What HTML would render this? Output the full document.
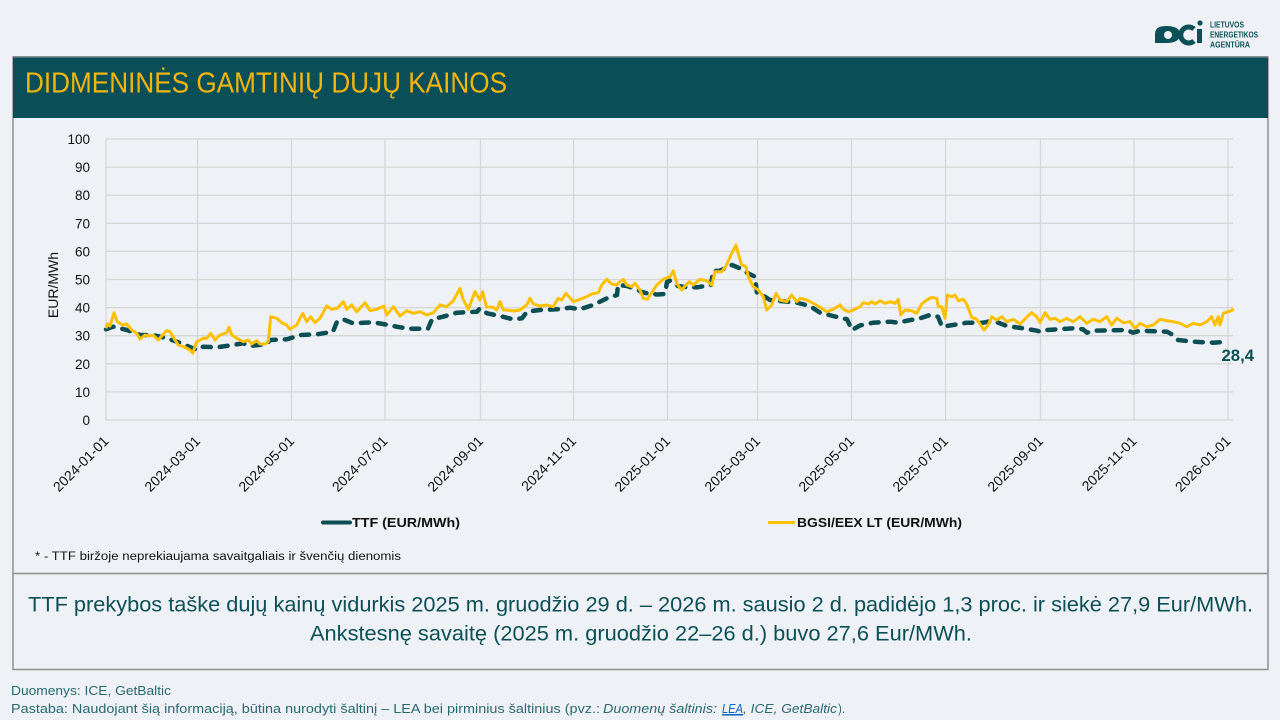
<!DOCTYPE html>
<html><head><meta charset="utf-8">
<style>
html,body{margin:0;padding:0;background:#eef2f6;}
svg{display:block;}
text{font-family:"Liberation Sans","DejaVu Sans",sans-serif;}
</style></head>
<body>
<svg width="1280" height="720" viewBox="0 0 1280 720" xmlns="http://www.w3.org/2000/svg">
<rect x="0" y="0" width="1280" height="720" fill="#eef2f6"/>

<!-- logo -->
<g fill="#0b5057">
  <path d="M1155,43 L1155,34 Q1155,26 1166,26 Q1180,26 1180,34.5 Q1180,43 1166,43 Z"/>
  <circle cx="1168" cy="35" r="4" fill="#eef2f6"/>
  <path d="M1194,29 A8,8 0 1 0 1194,41" fill="none" stroke="#0b5057" stroke-width="5"/>
  <rect x="1197" y="29" width="5" height="14"/>
  <circle cx="1200" cy="23" r="2.6"/>
</g>
<g fill="#0b5057" font-weight="bold" font-size="8">
  <text x="1210" y="27.5" textLength="34" lengthAdjust="spacingAndGlyphs">LIETUVOS</text>
  <text x="1210" y="37.5" textLength="48" lengthAdjust="spacingAndGlyphs">ENERGETIKOS</text>
  <text x="1210" y="47.5" textLength="40" lengthAdjust="spacingAndGlyphs">AGENTŪRA</text>
</g>

<!-- panel borders -->
<rect x="13" y="57" width="1255" height="612.5" fill="none" stroke="#8f8f8f" stroke-width="1.5"/>
<line x1="13" y1="573.5" x2="1268" y2="573.5" stroke="#8f8f8f" stroke-width="1.5"/>
<!-- header -->
<rect x="13" y="57" width="1255" height="61" fill="#0a4f57"/>
<line x1="13" y1="57" x2="1268" y2="57" stroke="#6f7f80" stroke-width="1.5"/>
<text x="25" y="92.5" font-size="29" fill="#f5b50f" textLength="482" lengthAdjust="spacingAndGlyphs">DIDMENINĖS GAMTINIŲ DUJŲ KAINOS</text>

<!-- gridlines -->
<g stroke="#d6d6d6" stroke-width="1.3">
  <line x1="106" y1="139" x2="1233" y2="139"/>
  <line x1="106" y1="167.1" x2="1233" y2="167.1"/>
  <line x1="106" y1="195.2" x2="1233" y2="195.2"/>
  <line x1="106" y1="223.3" x2="1233" y2="223.3"/>
  <line x1="106" y1="251.4" x2="1233" y2="251.4"/>
  <line x1="106" y1="279.5" x2="1233" y2="279.5"/>
  <line x1="106" y1="307.6" x2="1233" y2="307.6"/>
  <line x1="106" y1="335.7" x2="1233" y2="335.7"/>
  <line x1="106" y1="363.8" x2="1233" y2="363.8"/>
  <line x1="106" y1="391.9" x2="1233" y2="391.9"/>
  <line x1="106" y1="420" x2="1233" y2="420"/>
  <line x1="106" y1="139" x2="106" y2="420"/>
  <line x1="197.5" y1="139" x2="197.5" y2="420"/>
  <line x1="291.5" y1="139" x2="291.5" y2="420"/>
  <line x1="385" y1="139" x2="385" y2="420"/>
  <line x1="480.5" y1="139" x2="480.5" y2="420"/>
  <line x1="573.5" y1="139" x2="573.5" y2="420"/>
  <line x1="667.5" y1="139" x2="667.5" y2="420"/>
  <line x1="757.5" y1="139" x2="757.5" y2="420"/>
  <line x1="851.5" y1="139" x2="851.5" y2="420"/>
  <line x1="945.5" y1="139" x2="945.5" y2="420"/>
  <line x1="1040.5" y1="139" x2="1040.5" y2="420"/>
  <line x1="1134" y1="139" x2="1134" y2="420"/>
  <line x1="1228" y1="139" x2="1228" y2="420"/>
</g>

<!-- y tick labels -->
<g font-size="13.5" fill="#111" text-anchor="end">
  <text x="90" y="144">100</text>
  <text x="90" y="172.1">90</text>
  <text x="90" y="200.2">80</text>
  <text x="90" y="228.3">70</text>
  <text x="90" y="256.4">60</text>
  <text x="90" y="284.5">50</text>
  <text x="90" y="312.6">40</text>
  <text x="90" y="340.7">30</text>
  <text x="90" y="368.8">20</text>
  <text x="90" y="396.9">10</text>
  <text x="90" y="425">0</text>
</g>
<text transform="translate(58,285) rotate(-90)" text-anchor="middle" font-size="14" fill="#111">EUR/MWh</text>

<!-- x tick labels -->
<g font-size="14" fill="#111" text-anchor="end">
  <text transform="translate(109.5,442) rotate(-45)">2024-01-01</text>
  <text transform="translate(201,442) rotate(-45)">2024-03-01</text>
  <text transform="translate(295,442) rotate(-45)">2024-05-01</text>
  <text transform="translate(388.5,442) rotate(-45)">2024-07-01</text>
  <text transform="translate(484,442) rotate(-45)">2024-09-01</text>
  <text transform="translate(577,442) rotate(-45)">2024-11-01</text>
  <text transform="translate(671,442) rotate(-45)">2025-01-01</text>
  <text transform="translate(761,442) rotate(-45)">2025-03-01</text>
  <text transform="translate(855,442) rotate(-45)">2025-05-01</text>
  <text transform="translate(949,442) rotate(-45)">2025-07-01</text>
  <text transform="translate(1044,442) rotate(-45)">2025-09-01</text>
  <text transform="translate(1137.5,442) rotate(-45)">2025-11-01</text>
  <text transform="translate(1231.5,442) rotate(-45)">2026-01-01</text>
</g>

<!-- TTF series -->
<polyline fill="none" stroke="#0b4f55" stroke-width="4.5" stroke-linecap="round" stroke-linejoin="round" stroke-dasharray="8 9"
points="106,329.3 113,326.7 127,330 140,335 153,335 167,338.3 177,341.7 193,348.3 197,350 203,346.7 217,347.3 233,345 243,343.3 250,346 267,344 270,340 287,339.3 300,335 317,334.3 333,331.7 337,321.7 343,319.3 353,323.3 373,322.3 383,324 400,327.3 410,328.7 428,328.7 432,319.3 443,316.7 457,312.7 477,311.7 480,308.3 487,313.3 500,316 513,319.3 522,318.3 527,311.7 540,310 557,309.3 570,307.7 580,309.3 593,305 607,298.3 617,295 618,285 627,286 637,289.3 641,291.7 647,293.3 657,294.5 665,294 667,282 670,280.7 678,286 687,287.3 697,287.3 711,285 713,271 720,270.7 732,265 740,268.3 747,272.7 755,276.7 757,293.3 763,295.5 770,300 780,301 797,302.7 810,306 820,312.7 833,316 847,319.3 852,330 860,325.5 873,322.7 890,321.7 898,322.7 907,320.7 920,318.3 930,315 938,316.7 942,326.7 953,325 967,322.7 983,322.7 993,320.7 1007,326 1023,328.3 1037,330.7 1040,331.7 1047,330 1073,328.3 1083,329.3 1087,332.7 1093,330.7 1127,330 1133,332.7 1140,330.7 1167,331.7 1173,335 1178,340 1193,341.7 1213,342.7 1227,341.7"/>

<!-- BGSI series -->
<polyline fill="none" stroke="#ffc000" stroke-width="3" stroke-linejoin="round"
points="106,328.3 107.3,324 110,326 114,312.7 117.3,321.7 122.7,325 126.7,324 131.7,330 136.7,333.3 140,339 145,335 148.3,336 153.3,335.3 158.3,340 161.7,336 166.7,330.7 170,331.7 174,338.3 178.3,345 185,347.3 190,350 192.7,353.3 196.7,341.7 203.3,338.3 206.7,338.3 210.7,333.3 215,340 220,335 226.7,332.7 229,327.3 231.7,335 236.7,338.3 243.3,341.7 248.3,340 251.7,344 256.7,340.7 260,344 265,344 268.3,341.7 270.7,316.7 276.7,318.3 281.7,322.7 286.7,325 290,329.3 296.7,325 300,318.3 302.7,313.3 306.7,321.7 310.7,316.7 315,322.7 320,318.3 326.7,306 331.7,309.3 337.3,308.3 343.3,301.7 346.7,309.3 351.7,305 356.7,311.7 365,302.7 370,310.7 376.7,309.3 384,306 386.7,315 393.3,306.7 400,316 406.7,310.7 413.3,313.3 420,311.7 426.7,315 433.3,312.7 440,305 446.7,306.7 453.3,300.7 460,288.3 462.7,298.3 468.3,309.3 475,291.7 480,300 482.7,291.7 486.5,307 493.3,307.3 496.7,310 500,301.7 503.3,310 506.7,310 513.3,311 520,310 526.7,305 530,298.3 533.3,304 540,306 546.7,305 553.3,306.7 558.3,298.3 561.7,300 566,293.3 573.3,301.7 580,299.3 586.7,296.7 591.7,294 598.3,292.7 601.7,285 606.7,279.3 611.7,284 616.7,285 620,281.7 623.3,279.3 626.7,285 631.7,286.7 635,283.3 640,290 643.3,298.3 647.3,299.3 651.7,292.7 656.7,285 663.3,279.3 670,276.7 673.3,270.7 676.7,283.3 681.7,290 685,286 689.3,281.7 693.3,285 700,279.3 706.7,280.7 711.7,285 715,271.7 721.7,271.7 726,266 731.7,253.3 736,245 738.3,254 741.7,265 746,266.7 748.3,276.7 753.3,286.7 758.3,290 763.3,296.7 766.7,310 771.7,305 776,293.3 780,300 786.7,301.7 791.7,295 796.7,301.7 800,298.3 806.7,300 813.3,303.3 820,307.3 826.7,311.7 833.3,309.3 840,305 843.3,309.3 848.3,311.7 855,309.3 860,306.7 863.3,302.7 868.3,304 871.7,301.7 875,304 880,300.7 885,303.3 890,301.7 895,303.3 898.3,299.3 900.7,315 905,310 911.7,310.7 916.7,313.3 921.7,304 926.7,300 931.7,297.3 936.7,298.3 938.3,306.7 941.7,306.7 945,318.3 947.3,295 951.7,296.7 955,295 958.3,300.7 963.3,299.3 966.7,304 971.7,317.3 976.7,319.3 980,324 984,330 988.3,325 991.7,316.7 996.7,320 1001.7,316.7 1006.7,321.7 1013.3,319.3 1020,324 1026.7,317.3 1031.7,312.7 1036.7,316.7 1040,322.7 1045,312.7 1050,319.3 1055,318.3 1060,321.7 1066.7,318.3 1073.3,321.7 1080,316.7 1086.7,323.3 1093.3,319.3 1100,321.7 1106.7,316.7 1111.7,325 1116.7,318.3 1123.3,322.7 1130,321.7 1135,328.3 1140,323.3 1146.7,326.7 1153.3,325 1160,319.3 1166.7,320.7 1173.3,321.7 1180,323.3 1186.7,326.7 1193.3,323.3 1200,325 1206.7,321.7 1211.7,316.7 1215,325 1218.3,316.7 1220,325 1223.3,313.3 1228.3,311.7 1231.7,310.7 1233.3,308.3"/>

<text x="1221.5" y="361" font-size="17" font-weight="bold" fill="#0b4f55" textLength="32.5" lengthAdjust="spacingAndGlyphs">28,4</text>

<!-- legend -->
<line x1="323" y1="522.5" x2="350" y2="522.5" stroke="#0b4f55" stroke-width="4" stroke-linecap="round"/>
<text x="352" y="527" font-size="12.5" font-weight="bold" fill="#111" textLength="108" lengthAdjust="spacingAndGlyphs">TTF (EUR/MWh)</text>
<line x1="768" y1="522.5" x2="795" y2="522.5" stroke="#ffc000" stroke-width="3"/>
<text x="797" y="527" font-size="12.5" font-weight="bold" fill="#111" textLength="165" lengthAdjust="spacingAndGlyphs">BGSI/EEX LT (EUR/MWh)</text>

<text x="35" y="560" font-size="11.5" fill="#111" textLength="366" lengthAdjust="spacingAndGlyphs">* - TTF biržoje neprekiaujama savaitgaliais ir švenčių dienomis</text>

<!-- summary -->
<text x="28" y="611.5" font-size="21" fill="#0d4f57" textLength="1225" lengthAdjust="spacingAndGlyphs">TTF prekybos taške dujų kainų vidurkis 2025 m. gruodžio 29 d. – 2026 m. sausio 2 d. padidėjo 1,3 proc. ir siekė 27,9 Eur/MWh.</text>
<text x="310" y="640.5" font-size="21" fill="#0d4f57" textLength="662" lengthAdjust="spacingAndGlyphs">Ankstesnę savaitę (2025 m. gruodžio 22–26 d.) buvo 27,6 Eur/MWh.</text>

<!-- footer -->
<text x="11" y="695" font-size="12.5" fill="#2a6870" textLength="160" lengthAdjust="spacingAndGlyphs">Duomenys: ICE, GetBaltic</text>
<text x="11" y="713" font-size="12.5" fill="#2a6870" textLength="589" lengthAdjust="spacingAndGlyphs">Pastaba: Naudojant šią informaciją, būtina nurodyti šaltinį – LEA bei pirminius šaltinius (pvz.:</text>
<text x="603" y="713" font-size="12.5" font-style="italic" fill="#2a6870" textLength="114" lengthAdjust="spacingAndGlyphs">Duomenų šaltinis:</text>
<text x="722" y="713" font-size="12.5" font-style="italic" fill="#0563c1" text-decoration="underline" textLength="21" lengthAdjust="spacingAndGlyphs">LEA</text>
<line x1="722" y1="715" x2="743" y2="715" stroke="#0563c1" stroke-width="1"/>
<text x="743" y="713" font-size="12.5" font-style="italic" fill="#2a6870" textLength="94" lengthAdjust="spacingAndGlyphs">, ICE, GetBaltic</text>
<text x="838" y="713" font-size="12.5" fill="#2a6870" textLength="7" lengthAdjust="spacingAndGlyphs">).</text>
</svg>
</body></html>
